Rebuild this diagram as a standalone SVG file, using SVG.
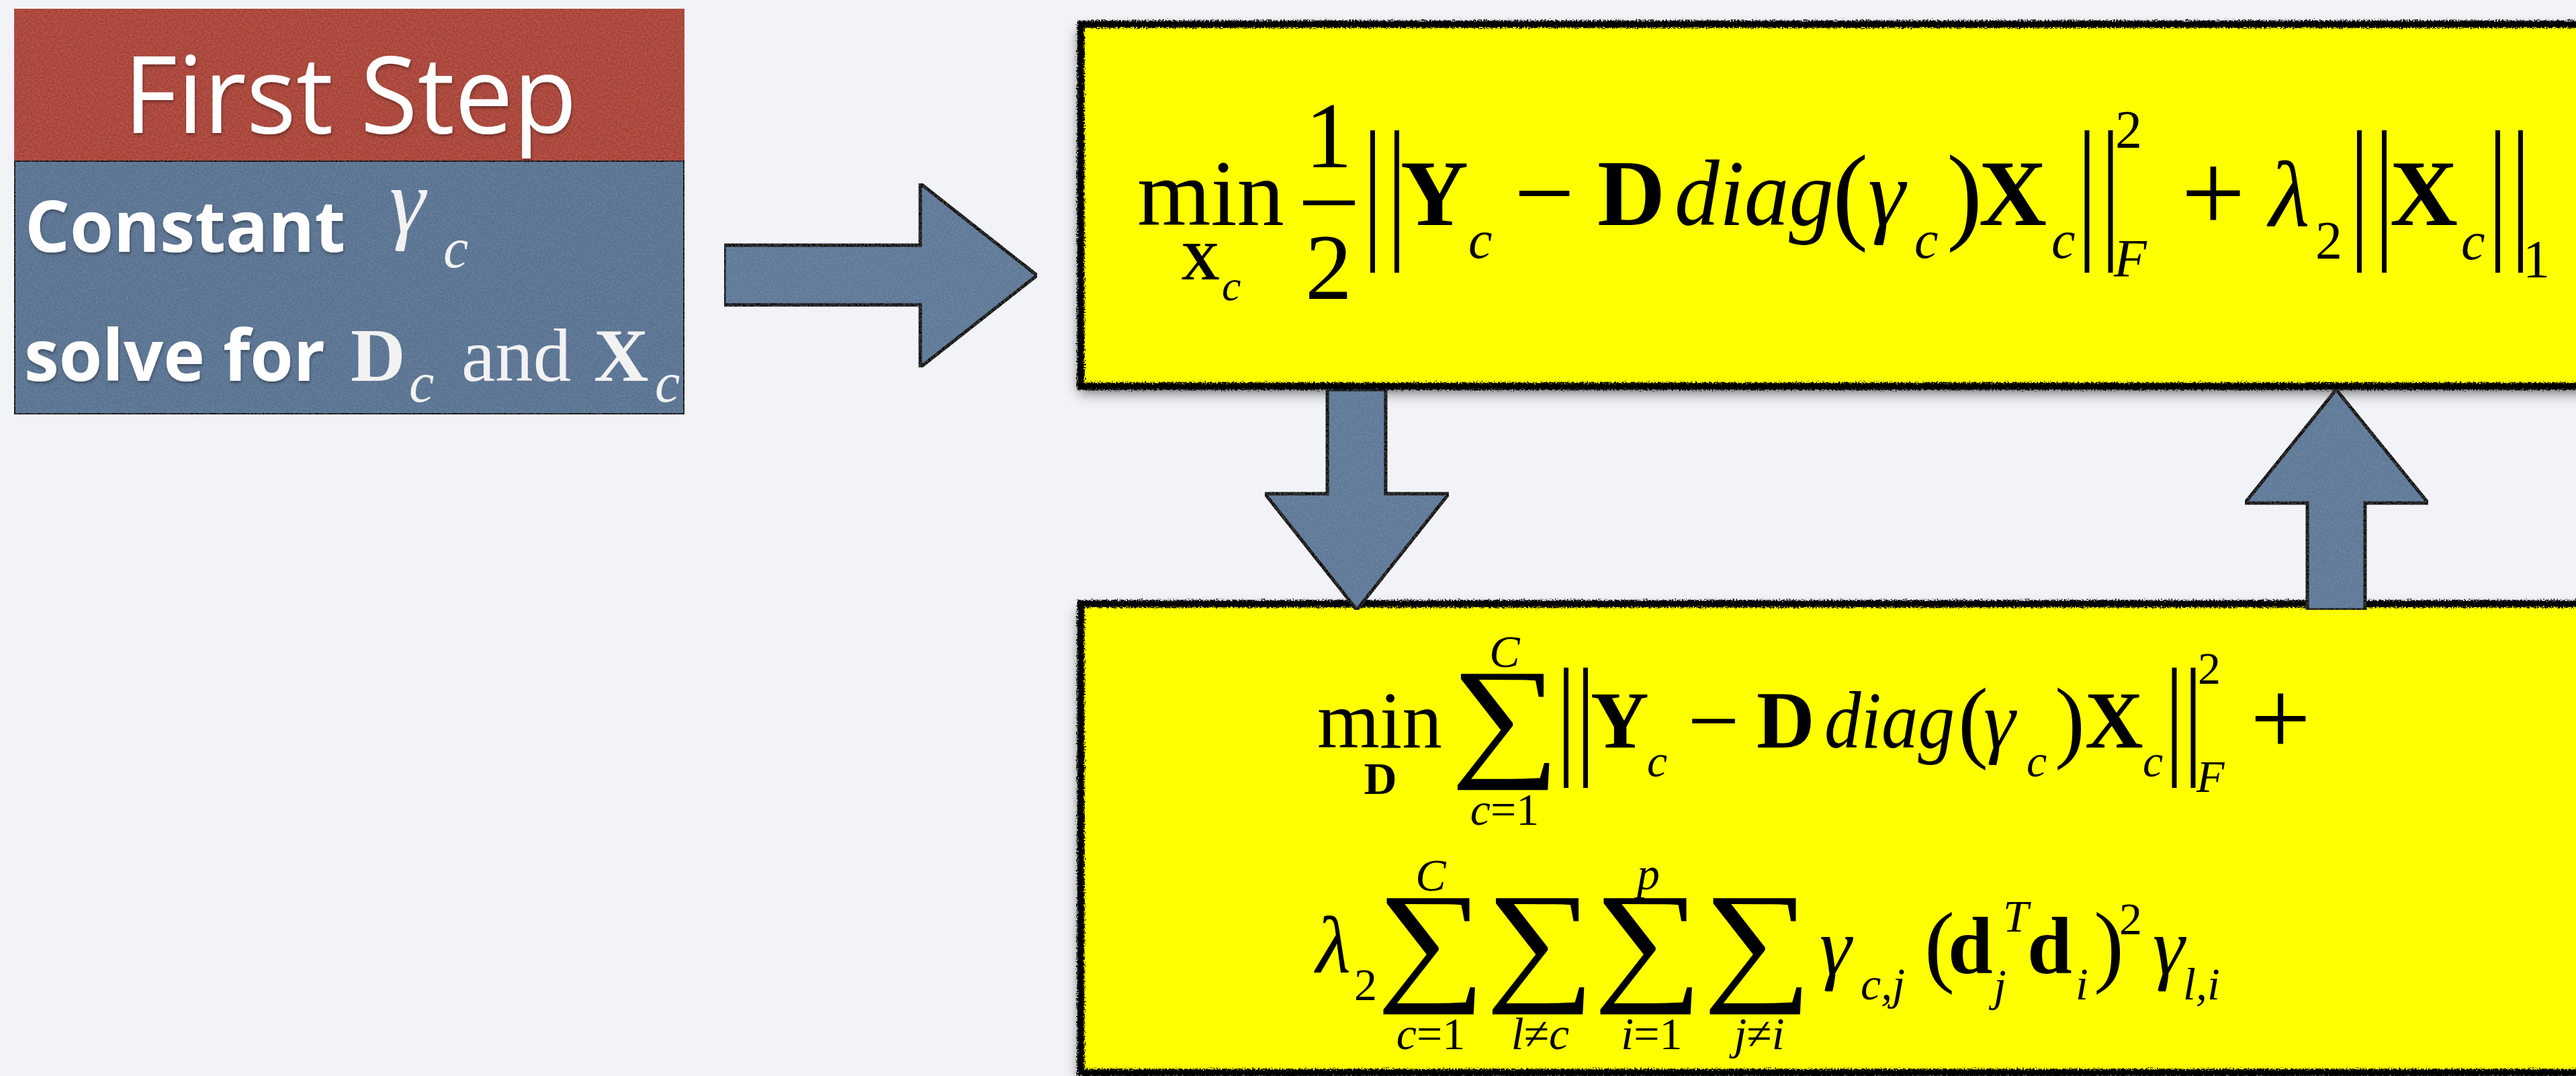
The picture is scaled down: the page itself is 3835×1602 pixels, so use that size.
<svg xmlns="http://www.w3.org/2000/svg" width="3835" height="1602" viewBox="0 0 3835 1602">
<defs>
<style>
.m{font-family:"Liberation Serif","Times New Roman",serif;fill:#000}
.it{font-style:italic}
.b{font-weight:bold}
.s{font-size:80px}
.ss{font-size:64px}
.M{font-size:140px}
.bs{font-size:68px}
.B{font-size:120px}
.sig{font-size:190px}
.w{font-family:"Open Sans","Noto Sans",sans-serif;fill:#fff}
.wm{font-family:"Liberation Serif","Times New Roman",serif;fill:#f2f2f2}
.bar{stroke:#000;stroke-width:7}
.arrow{fill:#5d7898;stroke:#000;stroke-width:5;stroke-linejoin:miter}
</style>
<filter id="shadow" x="-5%" y="-10%" width="110%" height="125%">
<feDropShadow dx="-2" dy="9" stdDeviation="10" flood-color="#000" flood-opacity="0.6"/>
</filter>
<filter id="rough" x="-2%" y="-5%" width="104%" height="110%">
<feTurbulence type="fractalNoise" baseFrequency="0.45" numOctaves="2" seed="3" result="n"/>
<feDisplacementMap in="SourceGraphic" in2="n" scale="9" xChannelSelector="R" yChannelSelector="G"/>
</filter>
<filter id="grain" x="0" y="0" width="100%" height="100%">
<feTurbulence type="fractalNoise" baseFrequency="0.35" numOctaves="2" seed="7" result="t"/>
<feColorMatrix in="t" type="matrix" values="0 0 0 0 1  0 0 0 0 1  0 0 0 0 1  0.12 0 0 0 -0.04" result="wn"/>
<feComposite in="wn" in2="SourceGraphic" operator="atop"/>
</filter>
<filter id="tshadow" x="-5%" y="-20%" width="110%" height="140%">
<feDropShadow dx="1" dy="3" stdDeviation="2" flood-color="#000" flood-opacity="0.35"/>
</filter>
</defs>
<rect x="0" y="0" width="3835" height="1602" fill="#f1f3f7"/>

<g id="first-step">
<rect x="21" y="13" width="998" height="226" fill="#aa3f30" filter="url(#grain)"/>
<rect x="21" y="239" width="998" height="378" fill="#577292" stroke="#000" stroke-width="4" filter="url(#grain)"/>
<text class="w" x="184" y="198" font-size="160" textLength="675" lengthAdjust="spacingAndGlyphs" filter="url(#tshadow)">First Step</text>
<text class="w" x="37" y="375" font-size="105" font-weight="bold" textLength="477" lengthAdjust="spacingAndGlyphs" filter="url(#tshadow)">Constant</text>
<text class="wm it" x="580" y="345" font-size="135">γ</text>
<text class="wm it" x="660" y="398" font-size="84">c</text>
<text class="w" x="36" y="567" font-size="105" font-weight="bold" textLength="448" lengthAdjust="spacingAndGlyphs" filter="url(#tshadow)">solve for</text>
<text class="wm b" x="522" y="567" font-size="113">D</text>
<text class="wm it" x="609" y="598" font-size="84">c</text>
<text class="wm" x="687" y="567" font-size="113">and</text>
<text class="wm b" x="884" y="567" font-size="113">X</text>
<text class="wm it" x="975" y="598" font-size="84">c</text>
</g>

<g id="update-x">
<rect x="1609" y="36" width="2300" height="539" fill="#ffff00" filter="url(#shadow)"/>
<rect x="1609" y="36" width="2300" height="539" fill="none" stroke="#000" stroke-width="11" filter="url(#rough)"/>
<g class="m">
<text class="M" x="1693" y="335" textLength="219" lengthAdjust="spacingAndGlyphs">min</text>
<text class="s b" x="1758" y="416">X</text>
<text class="ss it" x="1819" y="447">c</text>
<text class="M" x="1978" y="249" text-anchor="middle">1</text>
<text class="M" x="1978" y="445" text-anchor="middle">2</text>
<text class="M b" x="2085" y="335">Y</text>
<text class="s it" x="2186" y="384">c</text>
<text x="2299" y="341" font-size="160" text-anchor="middle">−</text>
<text class="M b" x="2378" y="335">D</text>
<text class="M it" x="2493" y="335" textLength="237" lengthAdjust="spacingAndGlyphs">diag</text>
<text x="2728" y="342" font-size="160">(</text>
<text class="M it" x="2781" y="335">γ</text>
<text class="s it" x="2850" y="384">c</text>
<text x="2898" y="342" font-size="160">)</text>
<text class="M b" x="2946" y="335">X</text>
<text class="s it" x="3054" y="384">c</text>
<text class="s" x="3149" y="220">2</text>
<text class="s it" x="3147" y="412">F</text>
<text x="3295" y="344" font-size="170" text-anchor="middle">+</text>
<text class="M it" x="3378" y="337">λ</text>
<text class="s" x="3447" y="385">2</text>
<text class="M b" x="3558" y="335">X</text>
<text class="s it" x="3664" y="386">c</text>
<text class="s" x="3756" y="413">1</text>
</g>
<line class="bar" x1="1940" y1="302" x2="2017" y2="302"/>
<line class="bar" x1="2043.5" y1="194" x2="2043.5" y2="406"/>
<line class="bar" x1="2079.5" y1="194" x2="2079.5" y2="406"/>
<line class="bar" x1="3107" y1="194" x2="3107" y2="406"/>
<line class="bar" x1="3142" y1="194" x2="3142" y2="406"/>
<line class="bar" x1="3512.5" y1="194" x2="3512.5" y2="406"/>
<line class="bar" x1="3549.5" y1="194" x2="3549.5" y2="406"/>
<line class="bar" x1="3718.5" y1="194" x2="3718.5" y2="406"/>
<line class="bar" x1="3752.5" y1="194" x2="3752.5" y2="406"/>
</g>

<g id="update-d">
<rect x="1609" y="899" width="2300" height="698" fill="#ffff00" filter="url(#shadow)"/>
<rect x="1609" y="899" width="2300" height="698" fill="none" stroke="#000" stroke-width="11" filter="url(#rough)"/>
<g class="m">
<text class="B" x="1961" y="1113" textLength="186" lengthAdjust="spacingAndGlyphs">min</text>
<text class="bs b" x="2055" y="1182" text-anchor="middle">D</text>
<text class="sig" transform="translate(2241,1134) scale(1.2,1.05)" text-anchor="middle">∑</text>
<text class="bs it" x="2240" y="993" text-anchor="middle">C</text>
<text class="bs" x="2240" y="1228" text-anchor="middle"><tspan class="it">c</tspan>=1</text>
<text class="B b" x="2368" y="1113">Y</text>
<text class="bs it" x="2452" y="1156">c</text>
<text x="2551" y="1119" font-size="137" text-anchor="middle">−</text>
<text class="B b" x="2615" y="1113">D</text>
<text class="B it" x="2716" y="1113" textLength="194" lengthAdjust="spacingAndGlyphs">diag</text>
<text x="2915" y="1118" font-size="135">(</text>
<text class="B it" x="2953" y="1113">γ</text>
<text class="bs it" x="3017" y="1156">c</text>
<text x="3059" y="1118" font-size="135">)</text>
<text class="B b" x="3104" y="1113">X</text>
<text class="bs it" x="3190" y="1156">c</text>
<text class="bs" x="3272" y="1018">2</text>
<text class="bs it" x="3270" y="1179">F</text>
<text x="3395" y="1124" font-size="160" text-anchor="middle">+</text>

<text class="B it" x="1959" y="1448">λ</text>
<text class="bs" x="2016" y="1489">2</text>
<text class="sig" transform="translate(2130.5,1468) scale(1.2,1.05)" text-anchor="middle">∑</text>
<text class="sig" transform="translate(2293,1468) scale(1.2,1.05)" text-anchor="middle">∑</text>
<text class="sig" transform="translate(2453.5,1468) scale(1.2,1.05)" text-anchor="middle">∑</text>
<text class="sig" transform="translate(2616.5,1468) scale(1.2,1.05)" text-anchor="middle">∑</text>
<text class="bs it" x="2130" y="1326" text-anchor="middle">C</text>
<text class="bs it" x="2454" y="1324" text-anchor="middle">p</text>
<text class="bs" x="2130" y="1562" text-anchor="middle"><tspan class="it">c</tspan>=1</text>
<text class="bs" x="2293" y="1562" text-anchor="middle"><tspan class="it">l</tspan>≠<tspan class="it">c</tspan></text>
<text class="bs" x="2459" y="1562" text-anchor="middle"><tspan class="it">i</tspan>=1</text>
<text class="bs" x="2619" y="1562" text-anchor="middle"><tspan class="it">j</tspan>≠<tspan class="it">i</tspan></text>
<text class="B it" x="2709" y="1450">γ</text>
<text class="bs it" x="2770" y="1488">c,j</text>
<text x="2865" y="1452" font-size="135">(</text>
<text class="B b" x="2900" y="1449">d</text>
<text class="bs it" x="2982" y="1387">T</text>
<text class="bs it" x="2968" y="1490">j</text>
<text class="B b" x="3018" y="1449">d</text>
<text class="bs it" x="3090" y="1488">i</text>
<text x="3117" y="1452" font-size="135">)</text>
<text class="bs" x="3155" y="1391">2</text>
<text class="B it" x="3205" y="1450">γ</text>
<text class="bs it" x="3250" y="1488">l,i</text>
</g>
<line class="bar" x1="2331.5" y1="994" x2="2331.5" y2="1173"/>
<line class="bar" x1="2360.5" y1="994" x2="2360.5" y2="1173"/>
<line class="bar" x1="3237" y1="994" x2="3237" y2="1173"/>
<line class="bar" x1="3265" y1="994" x2="3265" y2="1173"/>
</g>

<g id="connectors">
<polygon class="arrow" filter="url(#grain)" points="1078,365 1370,365 1370,273 1544,410 1370,547 1370,454 1078,454"/>
<polygon class="arrow" filter="url(#grain)" points="1976,580 2063,580 2063,735 2157,735 2020,908 1883,735 1976,735"/>
<polygon class="arrow" filter="url(#grain)" points="3478,580 3615,749 3521,749 3521,908 3435,908 3435,749 3342,749"/>
</g>
</svg>
